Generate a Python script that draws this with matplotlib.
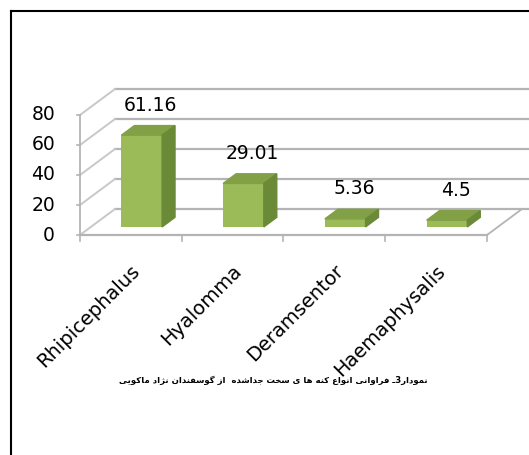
import matplotlib
matplotlib.use('Agg')
import matplotlib.pyplot as plt
from matplotlib.patches import Polygon

'''data'''
categories = ['Rhipicephalus', 'Hyalomma', 'Deramsentor', 'Haemaphysalis']
values = [61.16, 29.01, 5.36, 4.5]
yticks = [0, 20, 40, 60, 80]
caption = 'نمودار3ـ فراوانی انواع کنه ها ی سخت جداشده  از گوسفندان نژاد ماکویی'

'''simple persian shaping (matplotlib has no bidi)'''
forms = {
    'ا': ('\uFE8D', '\uFE8E', None, None),
    'ت': ('\uFE95', '\uFE96', '\uFE97', '\uFE98'),
    'ج': ('\uFE9D', '\uFE9E', '\uFE9F', '\uFEA0'),
    'خ': ('\uFEA5', '\uFEA6', '\uFEA7', '\uFEA8'),
    'د': ('\uFEA9', '\uFEAA', None, None),
    'ر': ('\uFEAD', '\uFEAE', None, None),
    'ز': ('\uFEAF', '\uFEB0', None, None),
    'ژ': ('\uFB8A', '\uFB8B', None, None),
    'س': ('\uFEB1', '\uFEB2', '\uFEB3', '\uFEB4'),
    'ش': ('\uFEB5', '\uFEB6', '\uFEB7', '\uFEB8'),
    'ع': ('\uFEC9', '\uFECA', '\uFECB', '\uFECC'),
    'ف': ('\uFED1', '\uFED2', '\uFED3', '\uFED4'),
    'ک': ('\uFB8E', '\uFB8F', '\uFB90', '\uFB91'),
    'گ': ('\uFB92', '\uFB93', '\uFB94', '\uFB95'),
    'م': ('\uFEE1', '\uFEE2', '\uFEE3', '\uFEE4'),
    'ن': ('\uFEE5', '\uFEE6', '\uFEE7', '\uFEE8'),
    'ه': ('\uFEE9', '\uFEEA', '\uFEEB', '\uFEEC'),
    'و': ('\uFEED', '\uFEEE', None, None),
    'ی': ('\uFBFC', '\uFBFD', '\uFBFE', '\uFBFF'),
    'ـ': ('ـ', 'ـ', 'ـ', 'ـ'),
}

def joins_next(c):
    return c in forms and forms[c][2] is not None

def shape(text):
    out = []
    for i, c in enumerate(text):
        if c not in forms:
            out.append(c)
            continue
        prev = text[i-1] if i > 0 else ''
        nxt = text[i+1] if i + 1 < len(text) else ''
        p = joins_next(prev)
        n = joins_next(c) and nxt in forms
        iso, fin, ini, med = forms[c]
        if p and n:
            out.append(med)
        elif p:
            out.append(fin)
        elif n:
            out.append(ini)
        else:
            out.append(iso)
    return ''.join(out)[::-1]

'''geometry (category units / value units)'''
px_cat = 101.75
px_val = 1.5
depth_x = 35 / px_cat
depth_v = 26 / px_val
bar_d0 = 0.31
bar_dd = 0.37
bar_w = 0.4
n = len(categories)
vmax = 80

fig = plt.figure(figsize=(5.29, 4.55), dpi=100)
ax = fig.add_axes([0, 0, 1, 1])
ax.set_xlim(-80 / px_cat, (529 - 80) / px_cat)
ax.set_ylim(-(455 - 235) / px_val, 235 / px_val)
ax.axis('off')

grid_c = '#b4b4b4'
wall_c = '#c8c8c8'

# back wall grid + floor
for t in yticks:
    ax.plot([depth_x, n + depth_x + 0.1], [t + depth_v, t + depth_v], color=grid_c, lw=1.6, zorder=1)
    ax.plot([0, depth_x], [t, t + depth_v], color=wall_c, lw=1.4, zorder=1)
    ax.plot([-0.03, 0], [t, t], color=grid_c, lw=1.2, zorder=1)
ax.plot([n, n + depth_x], [0, depth_v], color=grid_c, lw=1.3, zorder=1)
ax.plot([0, n], [0, 0], color=grid_c, lw=1.6, zorder=2)
ax.plot([0, 0], [0, vmax], color=grid_c, lw=1.3, zorder=2)
for i in range(n + 1):
    ax.plot([i, i], [0, -4], color=grid_c, lw=1.2, zorder=2)

# bars
ox = bar_d0 * depth_x
ov = bar_d0 * depth_v
dx = bar_dd * depth_x
dv = bar_dd * depth_v
centers = [i + 0.5 + ox for i in range(n)]
ax.bar(centers, values, width=bar_w, bottom=ov, color='#9bbb59', zorder=3)
for c, v in zip(centers, values):
    l, r = c - bar_w / 2, c + bar_w / 2
    top = ov + v
    ax.add_patch(Polygon([(l, top), (r, top), (r + dx, top + dv), (l + dx, top + dv)],
                         closed=True, color='#82a046', zorder=3))
    ax.add_patch(Polygon([(r, ov), (r + dx, ov + dv), (r + dx, top + dv), (r, top)],
                         closed=True, color='#6b8a38', zorder=3))
    ax.text(c + 0.09, top + 20, '%g' % v, ha='center', va='center', fontsize=13.5, zorder=4)

# y tick labels
for t in yticks:
    ax.text(-0.245, t, str(t), ha='right', va='center', fontsize=13.5)

# category labels
for i, name in enumerate(categories):
    ax.text(i + 0.56, -22, name, rotation=45, rotation_mode='anchor',
            ha='right', va='center', fontsize=14)

# caption
ax.text((273 - 80) / px_cat, (235 - 380) / px_val, shape(caption),
        ha='center', va='center', fontsize=6.1, fontweight='bold', family='DejaVu Sans')

# frame
fig.add_artist(plt.Line2D([11 / 529, 11 / 529], [0, 1 - 11 / 455], color='black', lw=1.5))
fig.add_artist(plt.Line2D([11 / 529, 1], [1 - 11 / 455, 1 - 11 / 455], color='black', lw=1.5))

fig.savefig('out.png', dpi=100)
